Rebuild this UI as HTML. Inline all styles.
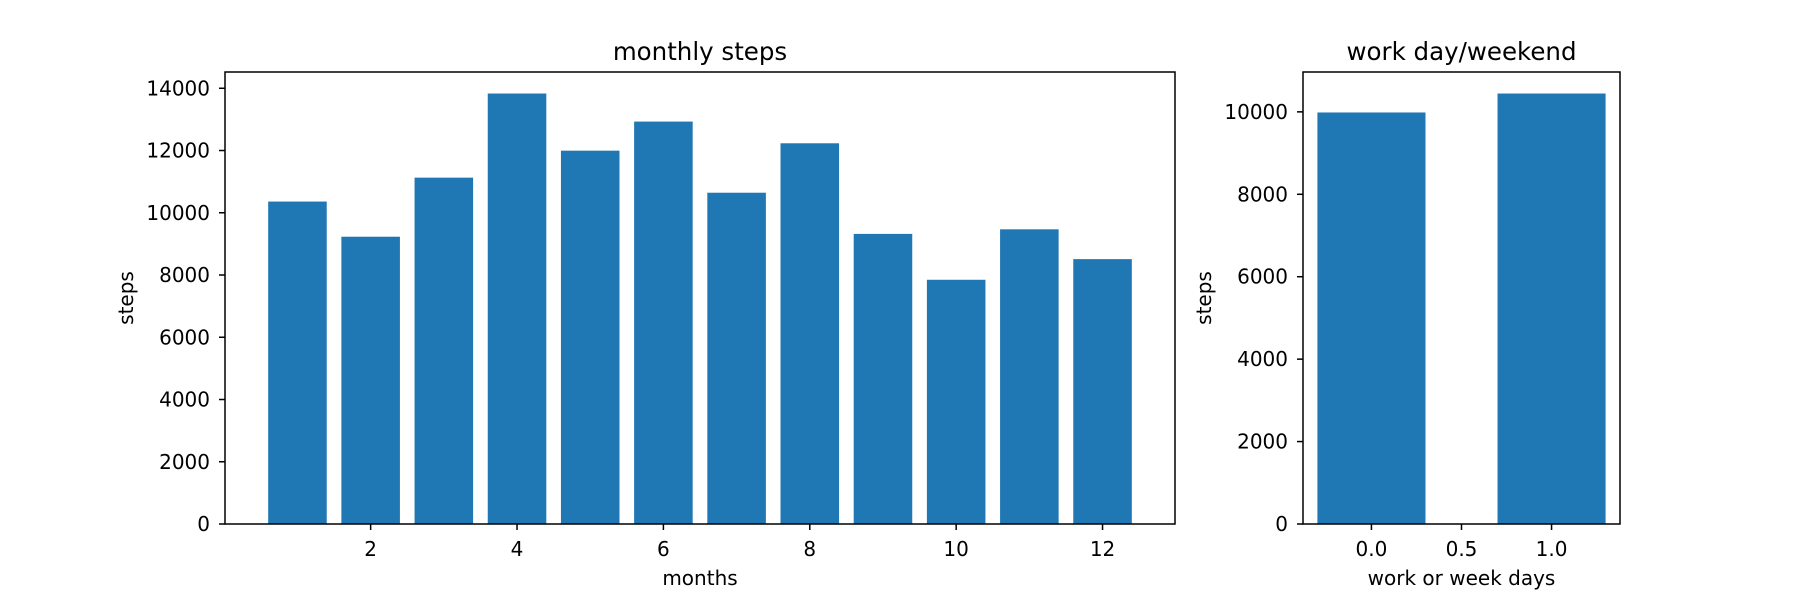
<!DOCTYPE html>
<html><head><meta charset="utf-8"><style>
html,body{margin:0;padding:0;background:#fff}
svg{display:block;font-family:"DejaVu Sans","Liberation Sans",sans-serif}
</style></head><body>
<svg id="chart" width="1800" height="600" viewBox="0 0 1800 600"></svg>
<script>
const months = [1,2,3,4,5,6,7,8,9,10,11,12];
const monthlySteps = [10360,9230,11128,13831,11995,12930,10644,12232,9321,7847,9468,8510];
const monthXTicks = [2,4,6,8,10,12];
const monthYTicks = [0,2000,4000,6000,8000,10000,12000,14000];
const dayCats = [0,1];
const daySteps = [9985,10445];
const dayXTicks = [0,0.5,1];
const dayXTickLabels = ["0.0","0.5","1.0"];
const dayYTicks = [0,2000,4000,6000,8000,10000];

const NS = "http://www.w3.org/2000/svg";
const svg = document.getElementById('chart');
function mk(tag, attrs, parent){
  const e = document.createElementNS(NS, tag);
  for (const k in attrs) e.setAttribute(k, attrs[k]);
  (parent||svg).appendChild(e);
  return e;
}
function panel(o){
  const g = mk('g', {});
  
  
  const sx = v => o.x0 + (v - o.xmin) / (o.xmax - o.xmin) * (o.x1 - o.x0);
  const sy = v => o.y0 - (v - 0) / o.ymax * (o.y0 - o.y1);
  o.cats.forEach((c, i) => {
    const r = mk('rect', {x: sx(c - o.bw/2), y: sy(o.vals[i]), width: sx(c + o.bw/2) - sx(c - o.bw/2), height: sy(0) - sy(o.vals[i]), fill: '#1f77b4'}, g);
    
    
  });
  const fr = mk('rect', {x: o.x0, y: o.y1, width: o.x1 - o.x0, height: o.y0 - o.y1, fill: 'none', stroke: '#000', 'stroke-width': 1.5}, g);
  
  
  o.xt.forEach((t, i) => {
    const x = sx(t);
    mk('line', {x1: x, x2: x, y1: o.y0, y2: o.y0 + 6, stroke: '#000', 'stroke-width': 1.5}, g);
    const tx = mk('text', {x: x, y: o.y0 + 32, 'text-anchor': 'middle', 'font-size': 20}, g);
    tx.textContent = o.xtl ? o.xtl[i] : String(t);
    
    
  });
  o.yt.forEach(t => {
    const y = sy(t);
    mk('line', {x1: o.x0 - 6, x2: o.x0, y1: y, y2: y, stroke: '#000', 'stroke-width': 1.5}, g);
    const tx = mk('text', {x: o.x0 - 15, y: y + 7, 'text-anchor': 'end', 'font-size': 20}, g);
    tx.textContent = String(t);
    
    
  });
  const ti = mk('text', {x: (o.x0 + o.x1)/2, y: o.y1 - 12, 'text-anchor': 'middle', 'font-size': 24.5}, g);
  ti.textContent = o.title;
  
  
  const xl = mk('text', {x: (o.x0 + o.x1)/2, y: o.y0 + 61, 'text-anchor': 'middle', 'font-size': 20}, g);
  xl.textContent = o.xlabel;
  
  
  const yc = (o.y0 + o.y1)/2;
  const yl = mk('text', {x: o.ylx, y: yc, 'text-anchor': 'middle', 'font-size': 20, transform: 'rotate(-90 ' + o.ylx + ' ' + yc + ')'}, g);
  yl.textContent = 'steps';
  
  
}
const mMax = Math.max(...monthlySteps) * 1.05;
panel({name: 'monthly-steps-chart', barPrefix: 'bar-month', x0: 225, x1: 1175, y0: 524, y1: 72,
  xmin: 0.01, xmax: 12.99, ymax: mMax, cats: months, vals: monthlySteps, bw: 0.8,
  xt: monthXTicks, yt: monthYTicks, title: 'monthly steps', xlabel: 'months', ylx: 133});
const dMax = Math.max(...daySteps) * 1.05;
panel({name: 'workday-weekend-chart', barPrefix: 'bar-day', x0: 1303, x1: 1620, y0: 524, y1: 72,
  xmin: -0.38, xmax: 1.38, ymax: dMax, cats: dayCats, vals: daySteps, bw: 0.6,
  xt: dayXTicks, xtl: dayXTickLabels, yt: dayYTicks, title: 'work day/weekend', xlabel: 'work or week days', ylx: 1211});
</script>
</body></html>
